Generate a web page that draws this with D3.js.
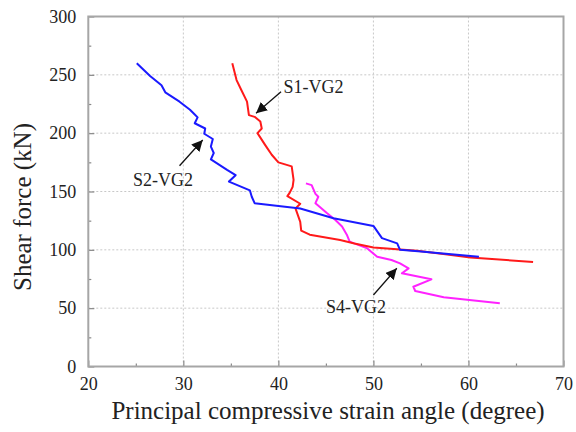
<!DOCTYPE html>
<html>
<head>
<meta charset="utf-8">
<script src="https://cdn.jsdelivr.net/npm/d3@7"></script>
<style>
html,body{margin:0;padding:0;background:#fff;}
svg{display:block;}
text{font-family:"Liberation Serif","Times New Roman",serif;fill:#222;}
</style>
</head>
<body>
<svg id="chart" width="576" height="432"></svg>
<script>
// ---- data ----
const xTicks = [20, 30, 40, 50, 60, 70];
const yTicks = [0, 50, 100, 150, 200, 250, 300];
const xMinor = [25, 35, 45, 55, 65];
const yMinor = [25, 75, 125, 175, 225, 275];

const s1Angle = [35.15, 35.6, 36.1, 36.7, 36.9, 37.5, 38.1, 38.25, 37.8, 38.6, 39.3, 40.0, 41.4, 41.6, 41.5, 41.2, 40.95, 42.3, 41.8, 42.3, 42.4, 43.3, 46.5, 48.0, 50.0, 54.6, 60.2, 66.8];
const s1Force = [260, 245.5, 237, 227, 215.5, 214, 210, 204, 200, 190, 181.5, 175, 171.5, 160, 154, 149, 146, 139.5, 135.5, 124, 116.5, 113, 108.5, 105.5, 102, 99.3, 93.5, 89.6];

const s2Angle = [25.1, 26.5, 27.7, 28.1, 29.6, 30.7, 31.2, 31.5, 31.2, 32.3, 32.2, 33.1, 32.9, 33.2, 32.9, 34.6, 35.5, 34.8, 37.0, 37.2, 37.5, 42.3, 45.8, 50.0, 50.9, 52.5, 52.8, 55.0, 61.1];
const s2Force = [260, 249, 241, 235, 227, 220, 216, 213.5, 208.5, 204, 199.5, 195, 188.5, 183, 177.5, 168.5, 164, 158.5, 151, 145.5, 140, 135.5, 127, 120.5, 110, 105.5, 100, 98.5, 94];

const s4Angle = [42.9, 43.5, 43.9, 44.2, 43.9, 45.1, 46.0, 46.7, 47.2, 47.5, 49.3, 50.4, 51.9, 52.8, 53.7, 53.0, 56.1, 54.2, 54.4, 57.4, 63.3];
const s4Force = [157, 155.5, 148, 145.5, 140, 131.5, 125.5, 120, 113, 107, 101.5, 94, 91.3, 88.4, 84.1, 79.9, 74.7, 68.4, 64.7, 59.3, 54.2];

const seriesNames = ["S1-VG2", "S2-VG2", "S4-VG2"];
const seriesColors = ["#ff1a1a", "#1a1aff", "#ff22ff"];

// ---- layout ----
const svg = d3.select("#chart");
const L = 88.3, R = 563.5, T = 16.5, B = 366.5;
const x = d3.scaleLinear().domain([20, 70]).range([L, R]);
const y = d3.scaleLinear().domain([0, 300]).range([B, T]);

// grid
const grid = svg.append("g");
grid.selectAll(".gx").data(xTicks.slice(1, -1)).enter().append("line")
  .attr("x1", d => x(d)).attr("x2", d => x(d)).attr("y1", T).attr("y2", B)
  .attr("stroke", "#c8c8c8").attr("stroke-width", 1).attr("stroke-dasharray", "2,2");
grid.selectAll(".gy").data(yTicks.slice(1, -1)).enter().append("line")
  .attr("y1", d => y(d)).attr("y2", d => y(d)).attr("x1", L).attr("x2", R)
  .attr("stroke", "#c8c8c8").attr("stroke-width", 1).attr("stroke-dasharray", "2,2");

// series
const seriesData = [
  d3.zip(s1Angle, s1Force),
  d3.zip(s2Angle, s2Force),
  d3.zip(s4Angle, s4Force)
];
const line = d3.line().x(d => x(d[0])).y(d => y(d[1]));
[2, 0, 1].forEach(i => {
  svg.append("path").datum(seriesData[i])
    .attr("d", line).attr("fill", "none")
    .attr("stroke", seriesColors[i]).attr("stroke-width", 2)
    .attr("stroke-linejoin", "round");
});

// axes
const axisColor = "#a6a6a6";
const serif = "Liberation Serif, Times New Roman, serif";
const xAxis = svg.append("g").attr("transform", `translate(0,${B})`)
  .call(d3.axisBottom(x).tickValues(xTicks).tickSizeInner(-6).tickSizeOuter(0).tickPadding(14).tickFormat(d3.format("d")));
const yAxis = svg.append("g").attr("transform", `translate(${L},0)`)
  .call(d3.axisLeft(y).tickValues(yTicks).tickSizeInner(-6).tickSizeOuter(0).tickPadding(12).tickFormat(d3.format("d")));
[xAxis, yAxis].forEach(a => {
  a.attr("font-family", serif);
  a.select(".domain").remove();
  a.selectAll(".tick line").attr("stroke", "#888").attr("stroke-width", 1.2);
  a.selectAll(".tick text").attr("font-size", 18).attr("font-family", serif).attr("fill", "#222");
});
xAxis.selectAll(".tick text").attr("dy", "0.55em");
svg.append("g").attr("transform", `translate(0,${B})`)
  .call(d3.axisBottom(x).tickValues(xMinor).tickSizeInner(-3).tickSizeOuter(0).tickFormat(""))
  .call(g => { g.select(".domain").remove(); g.selectAll("line").attr("stroke", "#888").attr("stroke-width", 1.2); });
svg.append("g").attr("transform", `translate(${L},0)`)
  .call(d3.axisLeft(y).tickValues(yMinor).tickSizeInner(-3).tickSizeOuter(0).tickFormat(""))
  .call(g => { g.select(".domain").remove(); g.selectAll("line").attr("stroke", "#888").attr("stroke-width", 1.2); });

// frame
svg.append("rect").attr("x", L).attr("y", T).attr("width", R - L).attr("height", B - T)
  .attr("fill", "none").attr("stroke", axisColor).attr("stroke-width", 2);

// axis titles
svg.append("text").attr("x", 328).attr("y", 419)
  .attr("text-anchor", "middle").attr("font-size", 25)
  .text("Principal compressive strain angle (degree)");
svg.append("text").attr("transform", `translate(31,${207}) rotate(-90)`)
  .attr("text-anchor", "middle").attr("font-size", 25)
  .text("Shear force (kN)");

// annotations
const defs = svg.append("defs");
defs.append("marker").attr("id", "ah").attr("viewBox", "0 0 10 10")
  .attr("refX", 10).attr("refY", 5).attr("markerWidth", 11).attr("markerHeight", 11)
  .attr("markerUnits", "userSpaceOnUse").attr("orient", "auto")
  .append("path").attr("d", "M0,0 L10,5 L0,10 z").attr("fill", "#111");

const annotations = [
  { label: seriesNames[0], tx: 313.5, ty: 93, from: [40.28, 235.5], to: [37.65, 217] },
  { label: seriesNames[1], tx: 163, ty: 186, from: [29.6, 172.1], to: [32.04, 194.1] },
  { label: seriesNames[2], tx: 356, ty: 313, from: [50.0, 61.3], to: [52.46, 84.2] }
];
annotations.forEach(a => {
  svg.append("line")
    .attr("x1", x(a.from[0])).attr("y1", y(a.from[1]))
    .attr("x2", x(a.to[0])).attr("y2", y(a.to[1]))
    .attr("stroke", "#111").attr("stroke-width", 1.3).attr("marker-end", "url(#ah)");
  svg.append("text").attr("x", a.tx).attr("y", a.ty).attr("text-anchor", "middle")
    .attr("font-size", 18).text(a.label);
});
</script>
</body>
</html>
